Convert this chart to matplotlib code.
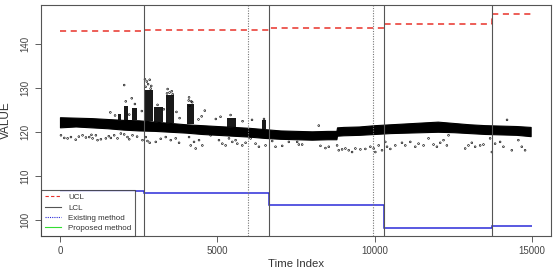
import matplotlib
matplotlib.use("Agg")
import matplotlib.pyplot as plt
import numpy as np
from matplotlib.lines import Line2D

plt.rcParams['font.family'] = ['Liberation Sans', 'DejaVu Sans']

# main band of the observations (lower / upper edge), read at steps of 500
band_idx = [0, 500, 1000, 1500, 2000, 2500, 3000, 3500, 4000, 4500, 5000, 5500,
            6000, 6500, 7000, 7500, 8000, 8500, 8780, 8800, 9000, 9500, 10000,
            10500, 11000, 11500, 12000, 12500, 13000, 13500, 14000, 14500, 14950]
band_lo = [121.1, 121.3, 121.1, 120.9, 120.6, 120.4, 120.3, 120.1, 119.9, 119.6,
           119.4, 119.2, 119.0, 118.7, 118.5, 118.4, 118.3, 118.4, 118.4, 119.2,
           119.3, 119.4, 119.6, 119.8, 119.9, 120.0, 120.1, 120.0, 119.8, 119.6,
           119.5, 119.4, 119.1]
band_hi = [123.4, 123.3, 123.2, 123.0, 122.8, 122.7, 122.4, 122.1, 121.8, 121.6,
           121.4, 121.2, 121.0, 120.7, 120.4, 120.3, 120.2, 120.3, 120.3, 121.1,
           121.2, 121.3, 121.6, 121.8, 122.0, 122.2, 122.4, 122.1, 121.8, 121.6,
           121.5, 121.4, 121.2]

# dense bursts above the band
burst_start = [1850, 2030, 2300, 2660, 2980, 3360, 4050, 5320, 6420]
burst_end = [1950, 2150, 2460, 2950, 3260, 3610, 4260, 5580, 6530]
burst_top = [124.2, 126.0, 125.5, 129.5, 125.8, 128.4, 126.5, 123.3, 122.8]

# isolated points above the band
hi_idx = [2040, 2280, 2700, 2760, 2850, 2900, 3420, 3550, 4100, 4170, 4120, 4500,
          5100, 5420, 6100, 6480, 1600, 1750, 2200, 3100, 3300, 3700, 4600, 4950,
          5800, 8220, 14200, 2600, 3800, 4400, 2720, 2800, 2880, 3400, 3480, 3580,
          2090, 2380, 4090, 4200]
hi_val = [130.7, 127.7, 132.0, 131.5, 131.9, 130.5, 129.8, 129.3, 127.9, 127.0,
          126.0, 123.6, 123.5, 123.9, 122.8, 123.0, 124.5, 123.8, 124.0, 126.2,
          125.2, 124.6, 124.9, 123.0, 122.5, 121.5, 122.8, 124.8, 123.2, 122.9,
          130.3, 130.9, 129.9, 128.8, 129.0, 128.6, 127.0, 126.4, 127.2, 126.8]

# isolated points below the band
lo_idx = [32, 137, 243, 349, 500, 600, 718, 824, 930, 1000, 1036, 1141, 1194, 1300,
          1458, 1550, 1617, 1722, 1828, 1934, 2040, 2145, 2200, 2304, 2450, 2621,
          2726, 2779, 2850, 3043, 3200, 3360, 3519, 3677, 3783, 4100, 4153, 4258,
          4311, 4417, 4522, 4787, 5050, 5157, 5262, 5368, 5474, 5579, 5633, 5791,
          5896, 6055, 6213, 6319, 6530, 6742, 6847, 7059, 7270, 7534, 7587, 7693,
          8274, 8432, 8538, 8802, 8855, 8961, 9066, 9172, 9278, 9383, 9542, 9700,
          9859, 9965, 10017, 10123, 10229, 10334, 10388, 10493, 10651, 10863, 10968,
          11127, 11285, 11390, 11549, 11707, 11866, 11972, 12078, 12183, 12289,
          12342, 12870, 12975, 13081, 13187, 13346, 13451, 13662, 13717, 13821,
          13980, 14085, 14351, 14560, 14668, 14773]
lo_val = [119.3, 118.7, 118.6, 118.9, 118.3, 119.0, 119.3, 118.8, 118.9, 119.4,
          118.6, 119.3, 118.2, 118.4, 118.6, 119.1, 118.7, 119.3, 118.6, 119.7,
          119.5, 118.9, 118.4, 119.3, 119.0, 118.2, 118.9, 118.0, 117.6, 117.8,
          118.5, 118.9, 118.2, 118.6, 117.6, 118.9, 117.0, 117.8, 116.3, 118.2,
          117.0, 119.3, 118.2, 117.4, 117.0, 118.6, 117.8, 118.2, 117.4, 117.0,
          117.6, 118.6, 117.4, 116.7, 117.0, 118.0, 116.7, 116.9, 117.8, 117.8,
          117.2, 117.2, 116.9, 116.4, 116.7, 117.0, 115.9, 116.1, 116.3, 115.9,
          115.5, 116.3, 116.1, 116.2, 116.7, 116.3, 115.5, 117.0, 115.9, 117.8,
          116.7, 116.2, 117.0, 117.6, 117.0, 117.8, 116.7, 117.4, 117.0, 118.6,
          117.2, 116.7, 117.6, 118.2, 117.0, 119.3, 116.3, 117.0, 117.6, 116.7,
          117.0, 117.2, 118.6, 115.5, 117.4, 117.8, 116.7, 115.9, 118.2, 116.7,
          115.9]

# control limits per segment
seg_edges = [0, 2663, 6627, 10295, 13730, 15000]
ucl = [142.9, 143.1, 143.6, 144.6, 146.8]
lcl = [106.7, 106.2, 103.4, 98.3, 98.8]

# detected change points
proposed_cp = [2663, 6627, 10295, 13730]
existing_cp = [5961, 9935]

fig = plt.figure(figsize=(5.55, 2.70), dpi=100)
ax = fig.add_axes([0.074, 0.126, 0.919, 0.856])

# observations
ax.fill_between(band_idx, band_lo, band_hi, color='black', lw=0.8, edgecolor='black')
for s, e, t in zip(burst_start, burst_end, burst_top):
    top_lo = np.interp(s, band_idx, band_hi)
    ax.fill_between([s, e], [top_lo, top_lo], [t, t], color='black', alpha=0.9, lw=0)
ax.scatter(hi_idx, hi_val, s=1.6, facecolors='none', edgecolors='black', linewidths=0.45)
ax.scatter(lo_idx, lo_val, s=1.6, facecolors='none', edgecolors='black', linewidths=0.45)

# limits
ax.stairs(ucl, seg_edges, color='#e8322a', ls=(0, (4, 3)), lw=1.1, baseline=None)
ax.stairs(lcl, seg_edges, color='#2b2bd8', lw=1.1, baseline=None)

for c in proposed_cp:
    ax.axvline(c, color='#555555', lw=0.8)
for c in existing_cp:
    ax.axvline(c, color='#777777', lw=0.8, ls=(0, (1, 1.3)))

ax.set_xlim(-600, 15600)
ax.set_ylim(96.45, 148.9)
ax.set_xticks([0, 5000, 10000, 15000])
ax.set_yticks([100, 110, 120, 130, 140])
ax.tick_params(colors='#444444', labelsize=7, length=4, width=0.6)
ax.tick_params(axis='y', labelrotation=90)
for lab in ax.get_yticklabels():
    lab.set_va('center')
for sp in ax.spines.values():
    sp.set_color('#555555')
    sp.set_linewidth(0.8)

ax.set_xlabel('Time Index', fontsize=8.2, color='#333333', labelpad=2)
ax.set_ylabel('VALUE', fontsize=8.5, color='#333333', labelpad=6)

handles = [Line2D([], [], color='#e8322a', ls=(0, (3, 2)), lw=0.8),
           Line2D([], [], color='#555555', lw=0.8),
           Line2D([], [], color='#2b2bd8', ls=(0, (1, 1)), lw=0.8),
           Line2D([], [], color='#33dd33', lw=0.8)]
leg = ax.legend(handles, ['UCL', 'LCL', 'Existing method', 'Proposed method'],
                loc='lower left', bbox_to_anchor=(0, 0), borderaxespad=0,
                fontsize=5.8, frameon=True, fancybox=False, handlelength=2.0,
                labelspacing=0.32, borderpad=0.5, handletextpad=0.85)
leg.get_frame().set_edgecolor('#333333')
leg.get_frame().set_linewidth(0.8)
for t in leg.get_texts():
    t.set_color('#333333')

fig.savefig('out.png', dpi=100)
